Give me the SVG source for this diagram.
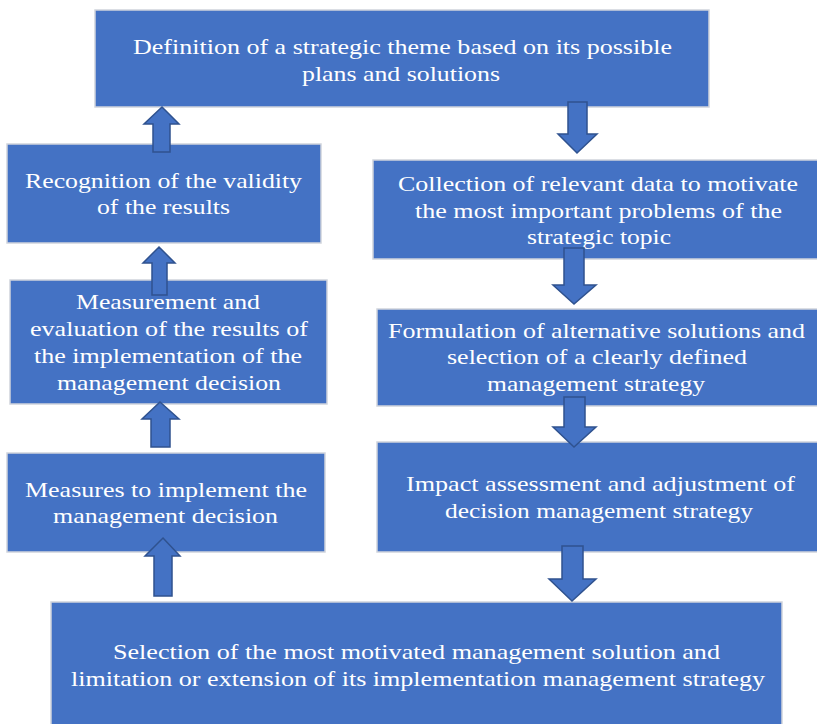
<svg xmlns="http://www.w3.org/2000/svg" width="817" height="724" viewBox="0 0 817 724">
<style>
.box{fill:#4472C4;stroke:#D0D4DC;stroke-width:1.5}
.arr{fill:#4472C4;stroke:#2F528F;stroke-width:1.5;stroke-linejoin:miter}
text{font-family:"Liberation Serif","Times New Roman",serif;font-size:22px;fill:#FFFFFF}
</style>
<rect width="817" height="724" fill="#FFFFFF"/>
<g id="n-definition">
<rect class="box" x="95" y="10" width="614" height="97"/>
<text x="133" y="54" textLength="539" lengthAdjust="spacingAndGlyphs">Definition of a strategic  theme based on its possible</text>
<text x="302" y="81" textLength="198" lengthAdjust="spacingAndGlyphs">plans and solutions</text>
</g>
<g id="n-recognition">
<rect class="box" x="7" y="144" width="314" height="99"/>
<text x="25" y="188" textLength="277" lengthAdjust="spacingAndGlyphs">Recognition  of the validity</text>
<text x="97" y="214" textLength="133" lengthAdjust="spacingAndGlyphs">of the results</text>
</g>
<g id="n-measurement">
<rect class="box" x="10" y="280" width="317" height="124"/>
<text x="76" y="309" textLength="184" lengthAdjust="spacingAndGlyphs">Measurement and</text>
<text x="30" y="336" textLength="278" lengthAdjust="spacingAndGlyphs">evaluation of the results of</text>
<text x="34" y="363" textLength="268" lengthAdjust="spacingAndGlyphs">the implementation of the</text>
<text x="57" y="390" textLength="224" lengthAdjust="spacingAndGlyphs">management decision</text>
</g>
<g id="n-measures">
<rect class="box" x="7" y="453" width="318" height="99"/>
<text x="25" y="497" textLength="282" lengthAdjust="spacingAndGlyphs">Measures to implement the</text>
<text x="53" y="523" textLength="225" lengthAdjust="spacingAndGlyphs">management decision</text>
</g>
<g id="n-collection">
<rect class="box" x="373" y="160" width="446" height="99"/>
<text x="398" y="191" textLength="400" lengthAdjust="spacingAndGlyphs">Collection of relevant data to motivate</text>
<text x="415" y="218" textLength="367" lengthAdjust="spacingAndGlyphs">the most important problems of the</text>
<text x="527" y="244" textLength="144" lengthAdjust="spacingAndGlyphs">strategic topic</text>
</g>
<g id="n-formulation">
<rect class="box" x="377" y="309" width="442" height="97"/>
<text x="388" y="338" textLength="417" lengthAdjust="spacingAndGlyphs">Formulation of alternative solutions and</text>
<text x="447" y="364" textLength="300" lengthAdjust="spacingAndGlyphs">selection of a clearly defined</text>
<text x="487" y="391" textLength="218" lengthAdjust="spacingAndGlyphs">management strategy</text>
</g>
<g id="n-impact">
<rect class="box" x="377" y="442" width="442" height="110"/>
<text x="406" y="491" textLength="389" lengthAdjust="spacingAndGlyphs">Impact assessment and adjustment of</text>
<text x="445" y="518" textLength="308" lengthAdjust="spacingAndGlyphs">decision management strategy</text>
</g>
<g id="n-selection">
<rect class="box" x="51" y="602" width="731" height="126"/>
<text x="113" y="659" textLength="607" lengthAdjust="spacingAndGlyphs">Selection of the most motivated management  solution and</text>
<text x="71" y="686" textLength="694" lengthAdjust="spacingAndGlyphs">limitation or extension of its implementation  management  strategy</text>
</g>
<g id="connectors">
<polygon class="arr" points="162,107 179,124 170,124 170,152 153,152 153,124 144,124"/>
<polygon class="arr" points="159,247 175,263 167,263 167,295 152,295 152,263 143,263"/>
<polygon class="arr" points="160,402 179,419 170,419 170,447 151,447 151,419 142,419"/>
<polygon class="arr" points="163,538 180,556 172,556 172,596 154,596 154,556 145,556"/>
<polygon class="arr" points="568,102 587,102 587,134 597,134 577,153 558,134 568,134"/>
<polygon class="arr" points="564,248 584,248 584,285 596,285 574,304 553,285 564,285"/>
<polygon class="arr" points="564,397 585,397 585,427 596,427 574,447 553,427 564,427"/>
<polygon class="arr" points="562,546 583,546 583,579 596,579 572,601 549,579 562,579"/>
</g>
</svg>
